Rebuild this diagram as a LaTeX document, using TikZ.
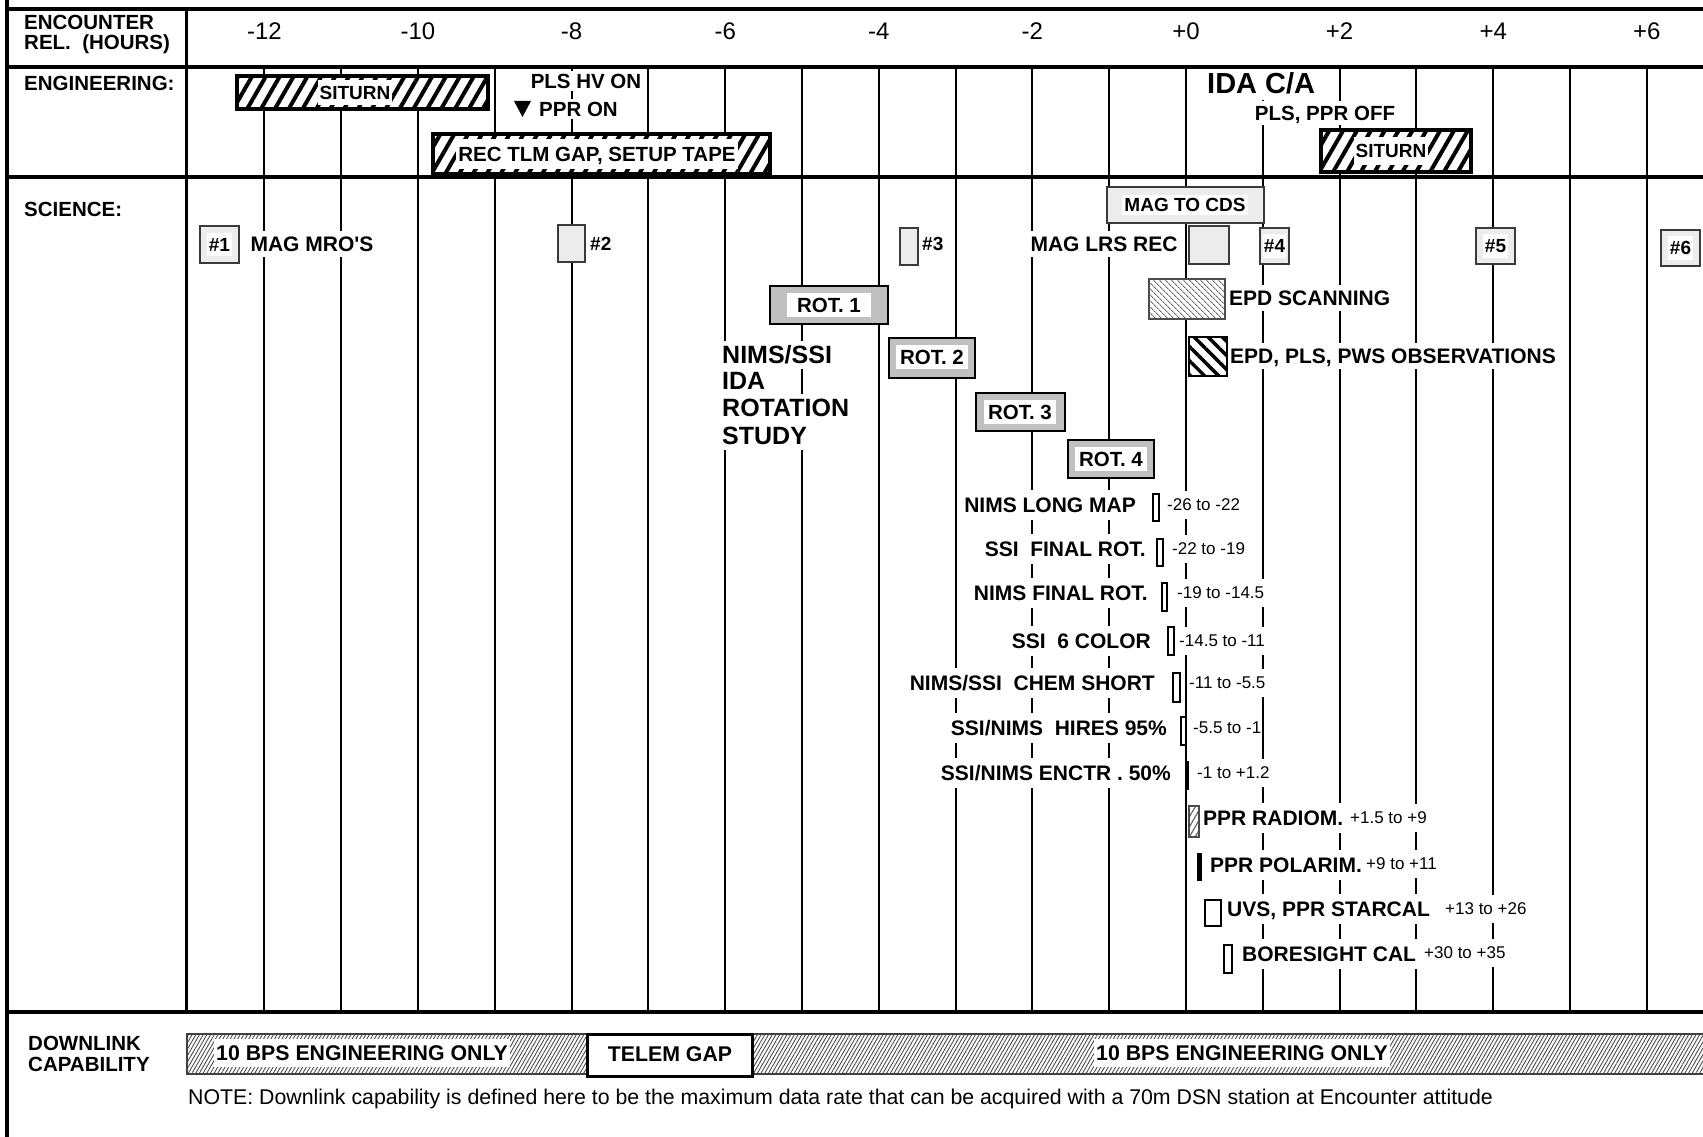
\documentclass[tikz,border=0pt]{standalone}
\usepackage{fontspec}
\setmainfont{Liberation Sans}
\newfontfamily\chartfont{Liberation Sans}
\usetikzlibrary{patterns,patterns.meta}
\definecolor{lightfill}{HTML}{ECECEC}
\definecolor{rotfill}{HTML}{C0C0C0}
\definecolor{edgegray}{HTML}{3A3A3A}
\newcommand\cbf[1]{\chartfont\bfseries\fontsize{#1}{#1}\selectfont}
\newcommand\crg[1]{\chartfont\mdseries\fontsize{#1}{#1}\selectfont}
\tikzset{
  hrule/.style={line width=4pt},
  gridline/.style={line width=2pt},
  bfA/.style={font=\cbf{20.5}, text height=14.4pt, text depth=0pt, inner xsep=2pt, inner ysep=3pt},
  bfS/.style={font=\cbf{21}, text height=14.7pt, text depth=0pt, inner xsep=2pt, inner ysep=7.5pt},
  bfB/.style={font=\cbf{19}, text height=13.3pt, text depth=0pt, inner xsep=2pt, inner ysep=3pt},
  bfD/.style={font=\cbf{21.3}, text height=14.9pt, text depth=0pt, inner xsep=2pt, inner ysep=7pt},
  numlbl/.style={font=\crg{24}, text height=16.8pt, text depth=0pt, inner sep=0pt},
  rnglbl/.style={font=\crg{17}, text height=11.9pt, text depth=0pt, inner xsep=1pt, inner ysep=8pt, fill=white, anchor=west},
  biglbl/.style={font=\cbf{29}, text height=20.3pt, text depth=0pt, inner xsep=2pt, inner ysep=7pt, fill=white},
  studylbl/.style={font=\cbf{25}, text height=17.5pt, text depth=0pt, inner xsep=2pt, inner ysep=5pt, fill=white, anchor=west},
  notelbl/.style={font=\crg{21.3}, anchor=west, inner sep=0pt},
  onwhite/.style={fill=white},
  hatchbox/.style={draw=black, line width=3.5pt, preaction={fill=white}, pattern={Lines[angle=60,distance=12pt,line width=4pt]}, pattern color=black},
  finehatch/.style={draw=black!75, line width=1.5pt, preaction={fill=white}, pattern={Lines[angle=60,distance=3.2pt,line width=0.9pt]}, pattern color=black!70},
  scanhatch/.style={draw=black!70, line width=1.5pt, preaction={fill=white}, pattern={Lines[angle=-45,distance=4pt,line width=1pt]}, pattern color=black!60},
  obshatch/.style={draw=black, line width=2pt, preaction={fill=white}, pattern={Lines[angle=-45,distance=10pt,line width=3.5pt]}, pattern color=black},
  radhatch/.style={draw=black!70, line width=1.5pt, preaction={fill=white}, pattern={Lines[angle=60,distance=5pt,line width=1.2pt]}, pattern color=black!60},
  lightbox/.style={draw=edgegray, line width=2pt, fill=lightfill},
  rotbox/.style={draw=black, line width=2.5pt, fill=rotfill},
  thinbox/.style={draw=black, line width=2pt, fill=white},
  solidbar/.style={fill=black},
}
\begin{document}
\begin{tikzpicture}[x=1pt,y=-1pt]
\useasboundingbox (0,0) rectangle (1703,1137);
\fill[white] (0,0) rectangle (1703,1137);
% grid
\foreach \h in {-12,...,6} \draw[gridline] ({1186+76.8*\h},67) -- ({1186+76.8*\h},1012);
\draw[line width=3pt] (186,9) -- (186,1012);
% header
\node[bfA, anchor=west] (enc1) at (22,22) {ENCOUNTER};
\node[bfA, anchor=west] (enc2) at (22,42) {REL.~~(HOURS)};
\foreach \h/\t in {-12/{-12},-10/{-10},-8/{-8},-6/{-6},-4/{-4},-2/{-2},0/{+0},2/{+2},4/{+4},6/{+6}}
  \node[numlbl] (hn\h) at ({1186+76.8*\h},31) {\t};
% engineering
\node[bfA, anchor=west] (eng) at (22,83) {ENGINEERING:};
\draw[hatchbox] (237,76) rectangle (488,109);
\node[bfB, onwhite, inner ysep=6pt] (situ1) at (355,92.5) {SITURN};
\node[bfA, onwhite] (plshv) at (586,81) {PLS HV ON};
\fill (514,101) -- (531,101) -- (522.5,117) -- cycle;
\node[bfA, onwhite, anchor=west] (ppron) at (537,109) {PPR ON};
\draw[hatchbox] (433,134) rectangle (770,174);
\node[bfA, onwhite, inner ysep=7.5pt] (rectlm) at (597,154) {REC TLM GAP, SETUP TAPE};
\node[biglbl, anchor=west] (idaca) at (1205,83) {IDA C/A};
\node[bfA, onwhite, inner ysep=5pt] (ppoff) at (1325,113) {PLS, PPR OFF};
\draw[hatchbox] (1321,130) rectangle (1471,172);
\node[bfB, onwhite, inner ysep=7pt] (situ2) at (1391,151) {SITURN};
% science
\node[bfA, anchor=west] (sci) at (22,209) {SCIENCE:};
\draw[lightbox] (1107,187) rectangle (1264,223);
\node[bfB, onwhite] (magcds) at (1185,205) {MAG TO CDS};
\draw[lightbox] (200,226) rectangle (239,263);
\node[bfB, onwhite, inner ysep=5pt] (m1) at (219.5,244.5) {\#1};
\node[bfS, onwhite, inner ysep=6pt] (magmro) at (312,244) {MAG MRO'S};
\draw[lightbox] (558,225) rectangle (585,262);
\node[bfB, anchor=west] (m2) at (588,244) {\#2};
\draw[lightbox] (900,228) rectangle (918,265);
\node[bfB, anchor=west] (m3) at (920,244) {\#3};
\node[bfS, onwhite, inner ysep=6pt] (maglrs) at (1104,244) {MAG LRS REC};
\draw[lightbox] (1189,226) rectangle (1229,264);
\draw[lightbox] (1260,228) rectangle (1289,264);
\node[bfB, onwhite, inner xsep=1pt, inner ysep=5pt] (m4) at (1274.5,246) {\#4};
\draw[lightbox] (1476,228) rectangle (1515,264);
\node[bfB, onwhite, inner ysep=5pt] (m5) at (1495.5,246) {\#5};
\draw[lightbox] (1661,230) rectangle (1700,266);
\node[bfB, onwhite, inner ysep=5pt] (m6) at (1680.5,248) {\#6};
\draw[scanhatch] (1149,279) rectangle (1225,319);
\node[bfS, onwhite, anchor=west, inner ysep=6pt] (epdscan) at (1227,298) {EPD SCANNING};
\draw[obshatch] (1189,337) rectangle (1227,376);
\node[bfS, onwhite, anchor=west, inner ysep=6pt] (epdobs) at (1228,356) {EPD, PLS, PWS OBSERVATIONS};
% rotation study
\draw[rotbox] (770,286) rectangle (888,324);
\node[bfA, onwhite, inner xsep=10pt, inner ysep=5pt] (rot1) at (829,305) {ROT. 1};
\draw[rotbox] (889,338) rectangle (975,378);
\node[bfA, onwhite, inner xsep=4pt, inner ysep=5pt] (rot2) at (932,357) {ROT. 2};
\draw[rotbox] (976,393) rectangle (1065,431);
\node[bfA, onwhite, inner xsep=4pt, inner ysep=5pt] (rot3) at (1020,412) {ROT. 3};
\draw[rotbox] (1068,440) rectangle (1154,478);
\node[bfA, onwhite, inner xsep=4pt, inner ysep=5pt] (rot4) at (1111,459) {ROT. 4};
\node[studylbl] (st1) at (720,355) {NIMS/SSI};
\node[studylbl] (st2) at (720,381) {IDA};
\node[studylbl] (st3) at (720,408) {ROTATION};
\node[studylbl] (st4) at (720,436) {STUDY};
% science sequence
\node[bfS, onwhite, anchor=east] (s1) at (1138,505) {NIMS LONG MAP};
\draw[thinbox] (1153,494) rectangle (1159,521);
\node[rnglbl] (r1) at (1166,505) {-26 to -22};
\node[bfS, onwhite, anchor=east] (s2) at (1148,549) {SSI~~FINAL ROT.};
\draw[thinbox] (1157,539) rectangle (1163,566);
\node[rnglbl] (r2) at (1171,549) {-22 to -19};
\node[bfS, onwhite, anchor=east] (s3) at (1150,593) {NIMS FINAL ROT.};
\draw[thinbox] (1162,583) rectangle (1167,611);
\node[rnglbl] (r3) at (1176,593) {-19 to -14.5};
\node[bfS, onwhite, anchor=east] (s4) at (1153,641) {SSI~~6 COLOR};
\draw[thinbox] (1168,627) rectangle (1174,655);
\node[rnglbl] (r4) at (1178,641) {-14.5 to -11};
\node[bfS, onwhite, anchor=east] (s5) at (1157,683) {NIMS/SSI~~CHEM SHORT};
\draw[thinbox] (1173,673) rectangle (1180,702);
\node[rnglbl] (r5) at (1188,683) {-11 to -5.5};
\node[bfS, onwhite, anchor=east] (s6) at (1169,728) {SSI/NIMS~~HIRES 95\%};
\draw[thinbox] (1181,717) rectangle (1186,745);
\node[rnglbl] (r6) at (1192,728) {-5.5 to -1};
\node[bfS, onwhite, anchor=east] (s7) at (1173,773) {SSI/NIMS ENCTR . 50\%};
\fill[solidbar] (1184.5,761) rectangle (1188.5,790);
\node[rnglbl] (r7) at (1196,773) {-1 to +1.2};
\draw[radhatch] (1189,806) rectangle (1199,837);
\node[bfS, onwhite, anchor=west] (s8) at (1201,818) {PPR RADIOM.};
\node[rnglbl] (r8) at (1349,818) {+1.5 to +9};
\fill[solidbar] (1197,853) rectangle (1202,881);
\node[bfS, onwhite, anchor=west] (s9) at (1208,865) {PPR POLARIM.};
\node[rnglbl] (r9) at (1365,864) {+9 to +11};
\draw[thinbox] (1205,900) rectangle (1221,926);
\node[bfS, onwhite, anchor=west] (s10) at (1225,909) {UVS, PPR STARCAL};
\node[rnglbl] (r10) at (1444,909) {+13 to +26};
\draw[thinbox] (1224,945) rectangle (1232,973);
\node[bfS, onwhite, anchor=west] (s11) at (1240,954) {BORESIGHT CAL};
\node[rnglbl] (r11) at (1423,953) {+30 to +35};
% downlink
\node[bfA, anchor=west] (dl1) at (26,1043) {DOWNLINK};
\node[bfA, anchor=west] (dl2) at (26,1064) {CAPABILITY};
\draw[finehatch] (187,1034) rectangle (1712,1074);
\node[bfD, onwhite] (bps1) at (362,1053) {10 BPS ENGINEERING ONLY};
\draw[draw=black, line width=3pt, fill=white] (587,1034) rectangle (752,1076);
\node[bfD] (telem) at (670,1054) {TELEM GAP};
\node[bfD, onwhite] (bps2) at (1242,1053) {10 BPS ENGINEERING ONLY};
\node[notelbl] (note) at (188,1099) {NOTE: Downlink capability is defined here to be the maximum data rate that can be acquired with a 70m DSN station at Encounter attitude};
% rules on top
\draw[hrule] (5,9) -- (1703,9);
\draw[hrule] (5,67) -- (1703,67);
\draw[hrule] (5,177) -- (1703,177);
\draw[hrule] (5,1012) -- (1703,1012);
\draw[line width=4pt] (7,0) -- (7,1137);
\end{tikzpicture}
\end{document}
